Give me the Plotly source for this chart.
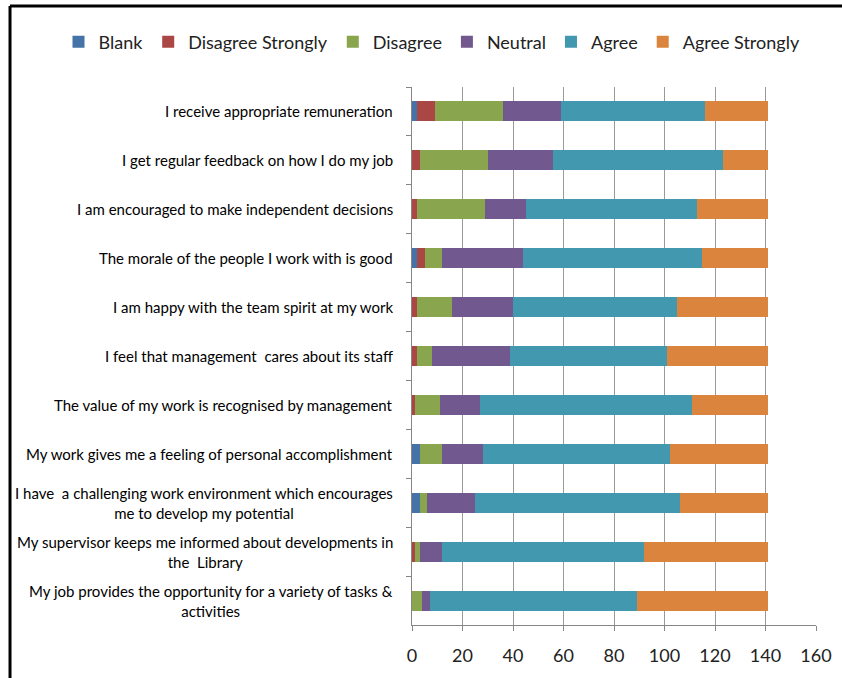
import plotly.graph_objects as go

statements = [
    "I receive appropriate remuneration",
    "I get regular feedback on how I do my job",
    "I am encouraged to make independent decisions",
    "The morale of the people I work with is good",
    "I am happy with the team spirit at my work",
    "I feel that management  cares about its staff",
    "The value of my work is recognised by management",
    "My work gives me a feeling of personal accomplishment",
    "I have  a challenging work environment which encourages<br>me to develop my potential",
    "My supervisor keeps me informed about developments in<br>the  Library",
    "My job provides the opportunity for a variety of tasks &<br>activities",
]

blank = [2, 0, 0, 2, 0, 0, 0, 3, 3, 0, 0]
disagree_strongly = [7, 3, 2, 3, 2, 2, 1, 0, 0, 1, 0]
disagree = [27, 27, 27, 7, 14, 6, 10, 9, 3, 2, 4]
neutral = [23, 26, 16, 32, 24, 31, 16, 16, 19, 9, 3]
agree = [57, 67, 68, 71, 65, 62, 84, 74, 81, 80, 82]
agree_strongly = [25, 18, 28, 26, 36, 40, 30, 39, 35, 49, 52]

series_names = ["Blank", "Disagree Strongly", "Disagree", "Neutral", "Agree", "Agree Strongly"]
series_values = [blank, disagree_strongly, disagree, neutral, agree, agree_strongly]
series_colors = ["#4572A7", "#AA4643", "#89A54E", "#71588F", "#4198AF", "#DB843D"]

x_ticks = [0, 20, 40, 60, 80, 100, 120, 140, 160]

cat_ids = [f"c{i}" for i in range(len(statements))]

fig = go.Figure()
for name, vals, col in zip(series_names, series_values, series_colors):
    fig.add_trace(go.Bar(
        y=cat_ids, x=vals, name=name, orientation="h",
        marker=dict(color=col, line=dict(width=0)),
    ))

for cid, label in zip(cat_ids, statements):
    fig.add_annotation(
        x=-0.042, xref="paper", y=cid, yref="y",
        text=label, showarrow=False, xanchor="right", yanchor="middle",
        align="center", font=dict(family="Lato", size=15, color="#000000"),
    )

# frame lines of the surrounding figure box
fig.add_shape(type="line", xref="paper", yref="paper",
              x0=-0.995, x1=1.1, y0=1.1506, y1=1.1506,
              line=dict(color="#000000", width=3))
fig.add_shape(type="line", xref="paper", yref="paper",
              x0=-0.995, x1=-0.995, y0=1.1506, y1=-0.2,
              line=dict(color="#000000", width=3))

fig.update_layout(
    width=842, height=678,
    margin=dict(l=412, r=26, t=87, b=53, autoexpand=False),
    barmode="stack", bargap=0.59,
    plot_bgcolor="white", paper_bgcolor="white",
    font=dict(family="Lato", color="#222222"),
    legend=dict(orientation="h", xref="paper", x=-0.875, xanchor="left",
                y=1.0836, yanchor="middle", font=dict(size=18, color="#222222"),
                bgcolor="rgba(0,0,0,0)",
                itemwidth=30, traceorder="normal"),
    showlegend=True,
)
fig.update_xaxes(
    range=[0, 160], tickvals=x_ticks, showgrid=True, gridcolor="#9a9a9a", gridwidth=1,
    showline=True, linecolor="#868686", linewidth=1,
    ticks="outside", ticklen=5, tickcolor="#868686",
    tickfont=dict(size=18, color="#222222"), zeroline=False,
    ticklabelstandoff=9,
)
fig.update_yaxes(
    categoryorder="array", categoryarray=cat_ids, autorange="reversed",
    showticklabels=False, showline=True, linecolor="#868686", linewidth=1,
    ticks="outside", ticklen=5, tickcolor="#868686", tickson="boundaries",
    showgrid=False,
)

fig.write_html("out.html")
